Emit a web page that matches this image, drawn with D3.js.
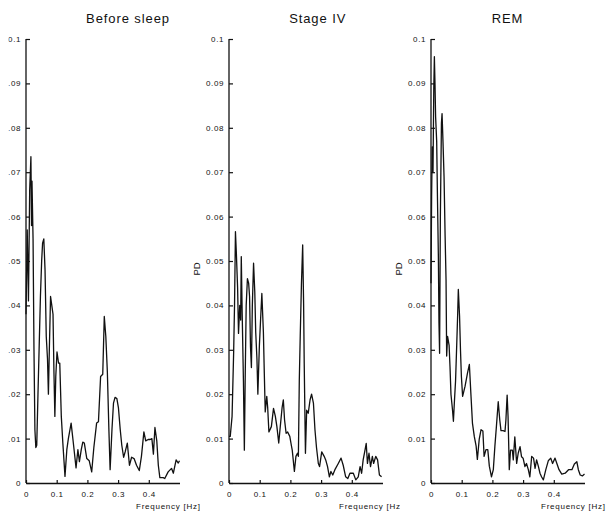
<!DOCTYPE html>
<html><head><meta charset="utf-8">
<script src="https://cdn.jsdelivr.net/npm/d3@7"></script>
<style>
html,body{margin:0;padding:0;background:#fff;}
text{font-family:"Liberation Sans",Arial,sans-serif;fill:#111;}
</style></head>
<body>
<svg id="c" width="608" height="511"></svg>
<script>
// ---- data ----
const titles = ["Before sleep", "Stage IV", "REM"];
const xTickValues = [0, 0.1, 0.2, 0.3, 0.4];
const yTickValues = [0, 0.01, 0.02, 0.03, 0.04, 0.05, 0.06, 0.07, 0.08, 0.09, 0.1];
const xLabel = "Frequency [Hz]";
const yLabel = "PD";

const beforeSleep = [[0,0.038],[0.004,0.057],[0.008,0.041],[0.012,0.066],[0.016,0.0735],[0.018,0.058],[0.0195,0.068],[0.023,0.055],[0.026,0.030],[0.029,0.012],[0.032,0.008],[0.035,0.0085],[0.039,0.020],[0.043,0.031],[0.047,0.042],[0.051,0.050],[0.054,0.054],[0.058,0.055],[0.062,0.048],[0.066,0.033],[0.070,0.028],[0.073,0.020],[0.076,0.030],[0.080,0.042],[0.084,0.040],[0.088,0.038],[0.091,0.025],[0.094,0.015],[0.097,0.024],[0.101,0.0295],[0.106,0.027],[0.110,0.027],[0.115,0.015],[0.120,0.009],[0.127,0.0015],[0.133,0.0075],[0.138,0.010],[0.147,0.0135],[0.155,0.0085],[0.163,0.0034],[0.169,0.0075],[0.174,0.0048],[0.180,0.0075],[0.185,0.0092],[0.190,0.009],[0.198,0.0055],[0.206,0.005],[0.214,0.0025],[0.221,0.008],[0.230,0.0135],[0.236,0.0138],[0.243,0.024],[0.250,0.0245],[0.255,0.0375],[0.260,0.033],[0.265,0.025],[0.270,0.012],[0.274,0.003],[0.280,0.012],[0.285,0.018],[0.290,0.0193],[0.296,0.019],[0.301,0.017],[0.307,0.012],[0.312,0.0085],[0.318,0.0058],[0.323,0.007],[0.330,0.009],[0.337,0.004],[0.344,0.0058],[0.352,0.0055],[0.360,0.004],[0.369,0.0028],[0.376,0.006],[0.384,0.0115],[0.390,0.0095],[0.398,0.0098],[0.404,0.0098],[0.410,0.010],[0.415,0.0065],[0.420,0.0125],[0.426,0.0095],[0.431,0.004],[0.436,0.0012],[0.447,0.0012],[0.452,0.001],[0.463,0.0025],[0.474,0.0033],[0.480,0.0022],[0.489,0.0052],[0.496,0.0045],[0.500,0.005]];

const stageIV = [[0,0.0105],[0.004,0.0105],[0.010,0.015],[0.015,0.029],[0.018,0.040],[0.021,0.0566],[0.024,0.0517],[0.028,0.044],[0.031,0.0337],[0.035,0.040],[0.038,0.0367],[0.040,0.051],[0.043,0.038],[0.047,0.023],[0.050,0.0074],[0.053,0.025],[0.056,0.040],[0.060,0.046],[0.064,0.045],[0.067,0.042],[0.070,0.0307],[0.073,0.026],[0.076,0.040],[0.080,0.0495],[0.084,0.043],[0.087,0.034],[0.091,0.028],[0.094,0.020],[0.099,0.031],[0.103,0.037],[0.107,0.0427],[0.112,0.034],[0.115,0.0247],[0.118,0.016],[0.123,0.0195],[0.126,0.017],[0.130,0.0115],[0.138,0.0127],[0.145,0.0168],[0.151,0.015],[0.156,0.0127],[0.162,0.009],[0.167,0.0127],[0.173,0.017],[0.177,0.0187],[0.181,0.0142],[0.186,0.0112],[0.191,0.0115],[0.198,0.0105],[0.203,0.0085],[0.206,0.0074],[0.213,0.0026],[0.218,0.006],[0.223,0.0067],[0.226,0.006],[0.229,0.0232],[0.232,0.033],[0.236,0.045],[0.240,0.0536],[0.243,0.0405],[0.245,0.027],[0.249,0.0067],[0.253,0.0164],[0.258,0.0157],[0.264,0.0187],[0.269,0.020],[0.275,0.018],[0.280,0.012],[0.285,0.008],[0.291,0.0044],[0.295,0.0037],[0.302,0.007],[0.310,0.006],[0.315,0.0052],[0.321,0.0037],[0.327,0.0014],[0.332,0.0026],[0.338,0.0018],[0.345,0.003],[0.356,0.0044],[0.365,0.0056],[0.372,0.004],[0.380,0.0014],[0.387,0.001],[0.394,0.0022],[0.405,0.0022],[0.413,0.0007],[0.421,0.0014],[0.427,0.0037],[0.432,0.0022],[0.437,0.0052],[0.443,0.0074],[0.447,0.0089],[0.451,0.0044],[0.456,0.0067],[0.461,0.0037],[0.467,0.006],[0.471,0.0044],[0.478,0.006],[0.484,0.0052],[0.490,0.0018],[0.497,0.0014]];

const rem = [[0,0.045],[0.002,0.0645],[0.004,0.0757],[0.0065,0.070],[0.009,0.0885],[0.011,0.096],[0.013,0.090],[0.015,0.0825],[0.0185,0.077],[0.021,0.0645],[0.024,0.051],[0.026,0.036],[0.028,0.0292],[0.0305,0.060],[0.034,0.081],[0.036,0.0832],[0.039,0.077],[0.0425,0.069],[0.046,0.0555],[0.049,0.0457],[0.051,0.0286],[0.054,0.033],[0.059,0.031],[0.062,0.026],[0.065,0.020],[0.070,0.0165],[0.073,0.0139],[0.076,0.018],[0.080,0.023],[0.084,0.0316],[0.087,0.0383],[0.089,0.0436],[0.093,0.0376],[0.096,0.030],[0.099,0.024],[0.103,0.0195],[0.111,0.0218],[0.119,0.0248],[0.125,0.0267],[0.130,0.020],[0.135,0.0135],[0.141,0.0105],[0.147,0.0083],[0.151,0.0053],[0.157,0.0098],[0.163,0.012],[0.169,0.0117],[0.173,0.006],[0.179,0.0075],[0.185,0.0075],[0.190,0.0038],[0.197,0.0014],[0.203,0.003],[0.208,0.0082],[0.213,0.0127],[0.219,0.0183],[0.224,0.0142],[0.228,0.0118],[0.235,0.0118],[0.241,0.0116],[0.244,0.0142],[0.248,0.0198],[0.251,0.015],[0.255,0.003],[0.259,0.0074],[0.265,0.0074],[0.268,0.0052],[0.273,0.0104],[0.279,0.0044],[0.284,0.0067],[0.290,0.0082],[0.295,0.0059],[0.300,0.0056],[0.306,0.0037],[0.311,0.0044],[0.317,0.003],[0.322,0.0014],[0.328,0.006],[0.334,0.0056],[0.339,0.0033],[0.344,0.0052],[0.350,0.0037],[0.355,0.0022],[0.360,0.0014],[0.366,0.0007],[0.374,0.003],[0.382,0.005],[0.390,0.0056],[0.396,0.0044],[0.404,0.0056],[0.410,0.0044],[0.417,0.003],[0.426,0.002],[0.437,0.0022],[0.448,0.003],[0.459,0.003],[0.467,0.0043],[0.475,0.0048],[0.480,0.003],[0.486,0.0018],[0.493,0.0016],[0.500,0.002]];

const series = [beforeSleep, stageIV, rem];

// ---- layout ----
const layout = [
  {axisX: 26,  clip: [0, 200],   titleX: 128,   labelClipX: 8.5, showYLabel: false},
  {axisX: 229, clip: [200, 400], titleX: 317.7, labelClipX: null, showYLabel: true},
  {axisX: 431, clip: [400, 608], titleX: 507.5, labelClipX: null, showYLabel: true}
];
const yTop = 39, yBottom = 483, xSpan = 153.5;

const svg = d3.select("#c");
const defs = svg.append("defs");
const fmt = d => d === 0 ? "0" : d3.format(".2~f")(d);

layout.forEach((L, i) => {
  defs.append("clipPath").attr("id", "pc" + i)
    .append("rect").attr("x", L.clip[0]).attr("y", 0)
    .attr("width", L.clip[1] - L.clip[0]).attr("height", 511);
  const g = svg.append("g");

  const x = d3.scaleLinear().domain([0, 0.5]).range([L.axisX, L.axisX + xSpan]);
  const y = d3.scaleLinear().domain([0, 0.1]).range([yBottom, yTop]);

  // y axis
  const ya = g.append("g").attr("transform", `translate(${L.axisX},0)`)
    .call(d3.axisLeft(y).tickValues(yTickValues).tickFormat(fmt)
      .tickSizeInner(-4).tickSizeOuter(0).tickPadding(5));
  // x axis
  const xa = g.append("g").attr("transform", `translate(0,${yBottom})`)
    .call(d3.axisBottom(x).tickValues(xTickValues).tickFormat(fmt)
      .tickSizeInner(-3).tickSizeOuter(0).tickPadding(8.5));

  [ya, xa].forEach(a => {
    a.select(".domain").attr("stroke", "#111").attr("stroke-width", 1.3);
    a.selectAll(".tick line").attr("stroke", "#111").attr("stroke-width", 1.2);
    a.selectAll("text").attr("font-size", 8).attr("letter-spacing", "0.6px")
      .attr("fill", "#111").style("font-family", '"Liberation Sans",Arial,sans-serif');
  });
  ya.select(".domain").attr("d", `M0,${yBottom}V${yTop}`);

  if (L.labelClipX !== null) {
    // clip in each tick's own coordinate system (origin at axis, tick y)
    defs.append("clipPath").attr("id", "lc" + i)
      .append("rect").attr("x", L.labelClipX - L.axisX).attr("y", -50)
      .attr("width", 400).attr("height", 100);
    ya.selectAll(".tick text").attr("clip-path", `url(#lc${i})`);
  }

  // curve
  g.append("path").datum(series[i])
    .attr("fill", "none").attr("stroke", "#111").attr("stroke-width", 1.3)
    .attr("stroke-linejoin", "round")
    .attr("d", d3.line().x(d => x(d[0])).y(d => y(d[1])));

  // title
  g.append("text").attr("x", L.titleX).attr("y", 22.5)
    .attr("text-anchor", "middle").attr("font-size", 13)
    .attr("letter-spacing", "0.9px").text(titles[i]);

  // y label
  if (L.showYLabel) {
    g.append("text")
      .attr("transform", `translate(${L.axisX - 29},269) rotate(-90)`)
      .attr("text-anchor", "middle").attr("font-size", 9.5)
      .text(yLabel);
  }

  // x label (clipped at the panel edge, as in the reference)
  g.append("text").attr("clip-path", `url(#pc${i})`)
    .attr("x", L.axisX + 110).attr("y", 509)
    .attr("font-size", 8).attr("letter-spacing", "0.75px")
    .text(xLabel);
});
</script>
</body></html>
